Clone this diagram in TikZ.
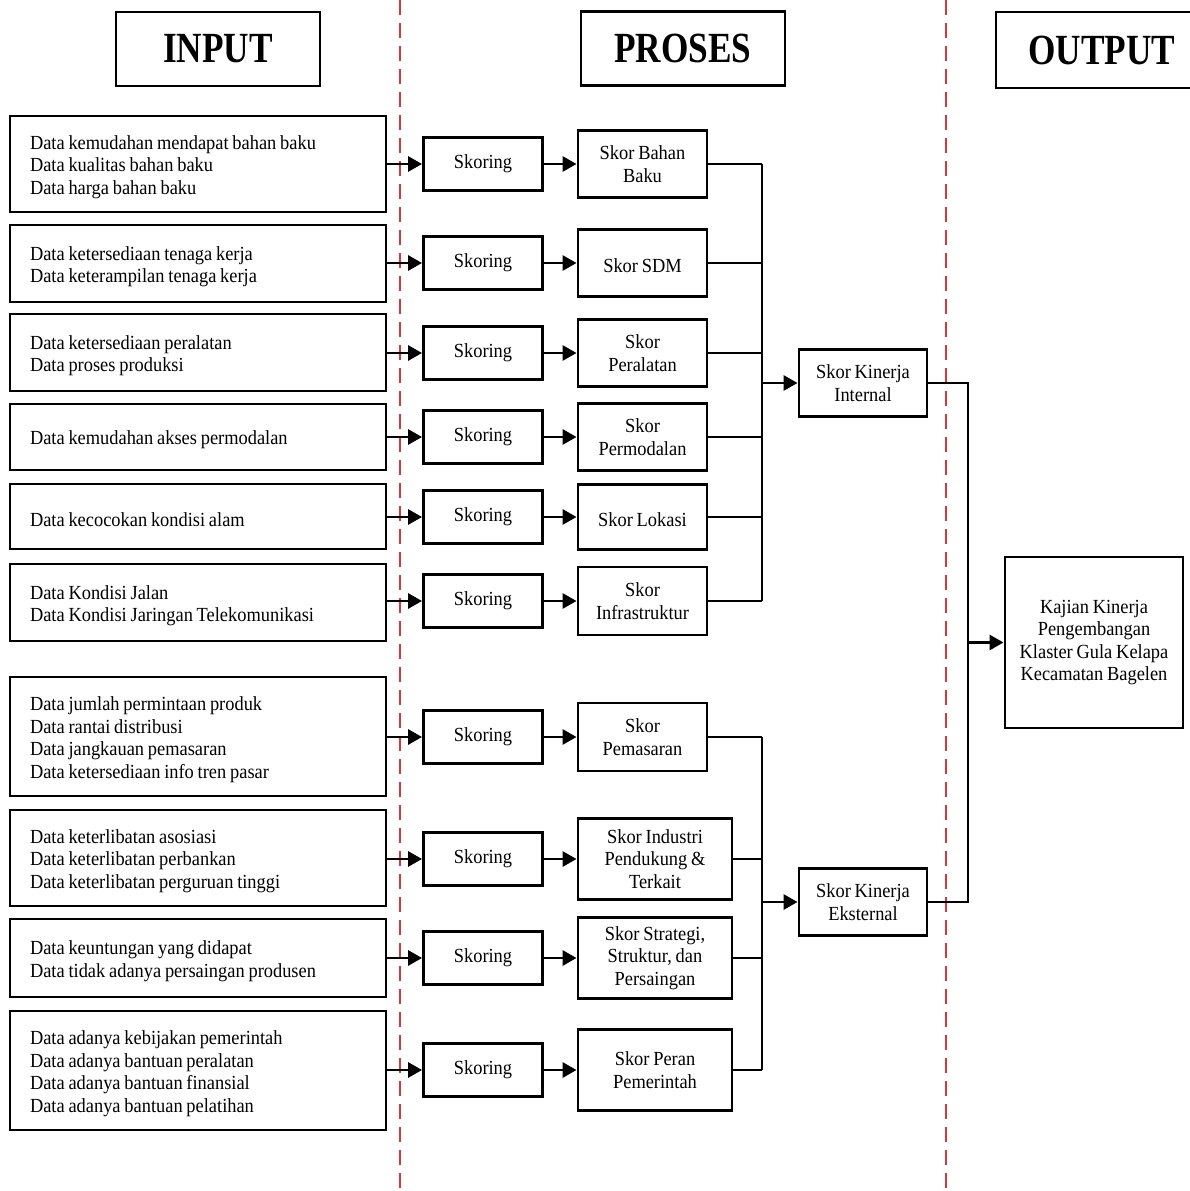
\documentclass[tikz,border=0pt]{standalone}
\usepackage{fontspec}
\setmainfont{Liberation Serif}[FakeStretch=0.92]
\newfontfamily\hdrfont{Liberation Serif}[FakeStretch=0.82]
\usetikzlibrary{arrows.meta}
\definecolor{dashred}{RGB}{208,58,58}
\newcommand\txtfont{\fontsize{20}{22.5}\selectfont}
\newcommand\headfont{\hdrfont\bfseries\fontsize{43}{46}\selectfont}
\newcommand\tightspace{\spaceskip=3.8pt plus 1pt minus 0.5pt\relax}
\newcommand\lowstrut[1]{\rule{0pt}{#1}}
\tikzset{
  box/.style={draw, line width=2.9pt, inner sep=0pt},
  headbox/.style={box, minimum width=204pt, minimum height=74pt, font=\headfont},
  inbox/.style={box, minimum width=376pt, text width=336pt, inner xsep=20pt, align=left, font=\txtfont,
                execute at begin node={\tightspace\lowstrut{20pt}}},
  skbox/.style={box, minimum width=119pt, minimum height=53pt, font=\txtfont},
  scbox/.style={box, minimum width=129pt, minimum height=67pt, align=center, font=\txtfont,
                execute at begin node={\tightspace\lowstrut{18.5pt}}},
  widebox/.style={scbox, minimum width=154pt, minimum height=81pt},
  kinbox/.style={box, minimum width=128pt, minimum height=67pt, align=center, font=\txtfont,
                execute at begin node={\tightspace\lowstrut{18.5pt}}},
  resbox/.style={box, minimum width=178pt, minimum height=171pt, align=center, font=\txtfont,
                execute at begin node={\tightspace}},
  arr/.style={line width=2.9pt, -{Triangle[length=14pt,width=15pt]}},
  wire/.style={line width=2.9pt},
  divider/.style={draw=dashred, line width=2.8pt, dash pattern=on 15pt off 8pt}
}
\begin{document}
\begin{tikzpicture}[x=1pt,y=-1pt]
\useasboundingbox (0,0) rectangle (1189,1191);
\fill[white] (0,0) rectangle (1189,1191);

% column dividers
\coordinate (d1top) at (400,0);   \coordinate (d1bot) at (400,1191);
\coordinate (d2top) at (946,0);   \coordinate (d2bot) at (946,1191);
\draw[divider] (d1top) -- (d1bot);
\draw[divider] (d2top) -- (d2bot);

% column headings
\node[headbox] (hin)  at (218,49)   {INPUT};
\node[headbox] (hpro) at (683,48.5) {PROSES};
\node[headbox, minimum width=200pt, minimum height=76pt] (hout) at (1096,50) {\hspace{12pt}OUTPUT};

% input data
\node[inbox, minimum height=96pt]  (in1)  at (198,164)    {Data kemudahan mendapat bahan baku\\Data kualitas bahan baku\\Data harga bahan baku};
\node[inbox, minimum height=77pt]  (in2)  at (198,263.5)  {Data ketersediaan tenaga kerja\\Data keterampilan tenaga kerja};
\node[inbox, minimum height=77pt]  (in3)  at (198,352.5)  {Data ketersediaan peralatan\\Data proses produksi};
\node[inbox, minimum height=66pt]  (in4)  at (198,437)    {Data kemudahan akses permodalan};
\node[inbox, minimum height=65pt]  (in5)  at (198,516.5)  {Data kecocokan kondisi alam};
\node[inbox, minimum height=77pt]  (in6)  at (198,602.5)  {Data Kondisi Jalan\\Data Kondisi Jaringan Telekomunikasi};
\node[inbox, minimum height=119pt] (in7)  at (198,736.5)  {Data jumlah permintaan produk\\Data rantai distribusi\\Data jangkauan pemasaran\\Data ketersediaan info tren pasar};
\node[inbox, minimum height=96pt]  (in8)  at (198,858)    {Data keterlibatan asosiasi\\Data keterlibatan perbankan\\Data keterlibatan perguruan tinggi};
\node[inbox, minimum height=78pt]  (in9)  at (198,958)    {Data keuntungan yang didapat\\Data tidak adanya persaingan produsen};
\node[inbox, minimum height=119pt] (in10) at (198,1070.5) {Data adanya kebijakan pemerintah\\Data adanya bantuan peralatan\\Data adanya bantuan finansial\\Data adanya bantuan pelatihan};

% scoring steps
\foreach \i/\y in {1/164,2/263,3/353,4/437,5/517,6/601,7/737,8/859,9/958,10/1070}
  \node[skbox] (sk\i) at (483,\y) {Skoring};

% scores
\node[scbox] (sc1) at (642.5,164) {Skor Bahan\\Baku};
\node[scbox] (sc2) at (642.5,263) {Skor SDM};
\node[scbox] (sc3) at (642.5,353) {Skor\\Peralatan};
\node[scbox] (sc4) at (642.5,437) {Skor\\Permodalan};
\node[scbox, minimum height=65pt] (sc5) at (642.5,517) {Skor Lokasi};
\node[scbox, minimum height=68pt] (sc6) at (642.5,601) {Skor\\Infrastruktur};
\node[scbox, minimum height=68pt] (sc7) at (642.5,737) {Skor\\Pemasaran};
\node[widebox] (sc8)  at (655,859)  {Skor Industri\\Pendukung \&\\Terkait};
\node[widebox] (sc9)  at (655,958)  {Skor Strategi,\\Struktur, dan\\Persaingan};
\node[widebox] (sc10) at (655,1070) {Skor Peran\\Pemerintah};

% aggregated scores and result
\node[kinbox] (kin) at (863,383) {Skor Kinerja\\Internal};
\node[kinbox] (kex) at (863,902) {Skor Kinerja\\Eksternal};
\node[resbox] (kaj) at (1094,642.5)
  {Kajian Kinerja\\Pengembangan\\Klaster Gula Kelapa\\Kecamatan Bagelen};

% data -> scoring -> score
\foreach \i in {1,...,10}{
  \draw[arr] (in\i.east |- sk\i.west) -- (sk\i.west);
  \draw[arr] (sk\i.east) -- (sc\i.west);
}

% internal collector
\coordinate (busI) at (762,0);
\foreach \i in {1,...,6}
  \draw[wire] (sc\i.east) -- (sc\i.east -| busI);
\draw[wire] (sc1.east -| busI) -- (sc6.east -| busI);
\draw[arr] (kin.west -| busI) -- (kin.west);

% external collector
\foreach \i in {7,...,10}
  \draw[wire] (sc\i.east) -- (sc\i.east -| busI);
\draw[wire] (sc7.east -| busI) -- (sc10.east -| busI);
\draw[arr] (kex.west -| busI) -- (kex.west);

% output collector
\coordinate (busO) at (968,0);
\draw[wire] (kin.east) -- (kin.east -| busO) -- (kex.east -| busO) -- (kex.east);
\draw[arr] (kaj.west -| busO) -- (kaj.west);
\end{tikzpicture}
\end{document}
